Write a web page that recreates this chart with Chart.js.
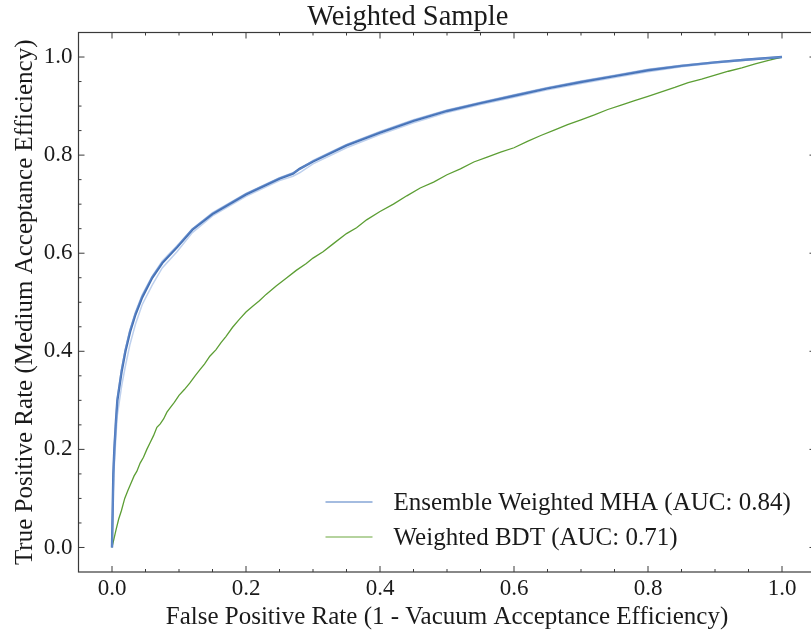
<!DOCTYPE html>
<html>
<head>
<meta charset="utf-8">
<script src="https://cdn.jsdelivr.net/npm/chart.js@4.4.1/dist/chart.umd.min.js"></script>
<style>
  html, body { margin: 0; padding: 0; background: #fff; overflow: hidden; }
  #wrap { width: 830px; height: 632px; }
</style>
</head>
<body>
<div id="wrap"><canvas id="roc" width="830" height="632"></canvas></div>
<script>
// ROC curves
const mhaFpr = [0, 0.002, 0.0035, 0.006, 0.008, 0.0145, 0.02, 0.027, 0.035, 0.045, 0.06, 0.075, 0.097, 0.12, 0.15, 0.2, 0.25, 0.27, 0.28, 0.3, 0.35, 0.4, 0.45, 0.5, 0.55, 0.6, 0.65, 0.7, 0.75, 0.8, 0.85, 0.9, 0.95, 1.0];
const mhaTpr = [0, 0.15, 0.2, 0.26, 0.3, 0.36, 0.4, 0.44, 0.475, 0.51, 0.55, 0.58, 0.612, 0.648, 0.68, 0.72, 0.752, 0.762, 0.772, 0.787, 0.82, 0.846, 0.87, 0.89, 0.906, 0.921, 0.936, 0.949, 0.961, 0.973, 0.982, 0.989, 0.995, 1.0];
// two of the faint ensemble members
const memberA = [0, 0.12, 0.17, 0.23, 0.27, 0.33, 0.37, 0.415, 0.455, 0.495, 0.535, 0.57, 0.603, 0.642, 0.676, 0.716, 0.748, 0.757, 0.764, 0.782, 0.815, 0.842, 0.866, 0.887, 0.903, 0.918, 0.933, 0.946, 0.958, 0.97, 0.98, 0.988, 0.994, 1.0];
const memberB = [0, 0.16, 0.21, 0.265, 0.305, 0.365, 0.405, 0.445, 0.48, 0.515, 0.553, 0.584, 0.615, 0.65, 0.683, 0.722, 0.754, 0.764, 0.771, 0.789, 0.822, 0.848, 0.872, 0.892, 0.908, 0.923, 0.938, 0.951, 0.963, 0.975, 0.983, 0.99, 0.996, 1.0];

const bdtFpr = [0, 0.003, 0.006, 0.01, 0.014, 0.019, 0.024, 0.028, 0.033, 0.037, 0.042, 0.047, 0.052, 0.057, 0.062, 0.067, 0.072, 0.077, 0.082, 0.087, 0.093, 0.1, 0.108, 0.116, 0.124, 0.131, 0.138, 0.146, 0.155, 0.163, 0.17, 0.18, 0.19, 0.2, 0.21, 0.22, 0.23, 0.245, 0.26, 0.275, 0.29, 0.3, 0.315, 0.33, 0.35, 0.365, 0.38, 0.4, 0.42, 0.44, 0.46, 0.48, 0.5, 0.52, 0.54, 0.56, 0.58, 0.6, 0.62, 0.64, 0.66, 0.68, 0.7, 0.72, 0.74, 0.76, 0.78, 0.8, 0.82, 0.84, 0.86, 0.88, 0.9, 0.92, 0.94, 0.96, 0.98, 1.0];
const bdtTpr = [0, 0.018, 0.036, 0.058, 0.075, 0.1, 0.117, 0.13, 0.146, 0.155, 0.172, 0.184, 0.2, 0.214, 0.228, 0.245, 0.252, 0.262, 0.276, 0.285, 0.296, 0.31, 0.322, 0.335, 0.35, 0.362, 0.374, 0.39, 0.403, 0.418, 0.43, 0.449, 0.465, 0.48, 0.492, 0.503, 0.516, 0.533, 0.549, 0.565, 0.579, 0.59, 0.603, 0.619, 0.64, 0.652, 0.668, 0.685, 0.7, 0.717, 0.733, 0.745, 0.76, 0.772, 0.786, 0.796, 0.806, 0.815, 0.828, 0.84, 0.851, 0.862, 0.872, 0.882, 0.893, 0.902, 0.911, 0.92, 0.929, 0.938, 0.948, 0.955, 0.963, 0.971, 0.978, 0.986, 0.993, 1.0];

const xTicks = [0, 0.2, 0.4, 0.6, 0.8, 1.0];
const yTicks = [0, 0.2, 0.4, 0.6, 0.8, 1.0];

const FONT = "'Liberation Serif', 'Times New Roman', serif";

function pts(xs, ys) { return xs.map((x, i) => ({x: x, y: ys[i]})); }

// inward ticks on all four sides + frame, like the matplotlib style
const frameTicks = {
  id: 'frameTicks',
  afterDraw(chart) {
    const {ctx, chartArea: a, scales: {x, y}} = chart;
    ctx.save();
    ctx.strokeStyle = '#3a3a3a';
    ctx.lineWidth = 1.2;
    ctx.strokeRect(a.left, a.top, a.right - a.left, a.bottom - a.top);
    ctx.lineWidth = 1;
    for (let i = -1; i <= 21; i++) {
      const v = i * 0.05;
      const major = i % 4 === 0;
      const len = major ? 6 : 3;
      const px = x.getPixelForValue(v);
      if (px > a.left + 1 && px < a.right - 1) {
        ctx.beginPath();
        ctx.moveTo(px, a.bottom); ctx.lineTo(px, a.bottom - len);
        ctx.moveTo(px, a.top); ctx.lineTo(px, a.top + len);
        ctx.stroke();
      }
      const py = y.getPixelForValue(v);
      if (py > a.top + 1 && py < a.bottom - 1) {
        ctx.beginPath();
        ctx.moveTo(a.left, py); ctx.lineTo(a.left + len, py);
        ctx.moveTo(a.right, py); ctx.lineTo(a.right - len, py);
        ctx.stroke();
      }
    }
    ctx.restore();
  }
};

// legend inside the axes, lower right
const innerLegend = {
  id: 'innerLegend',
  afterDatasetsDraw(chart) {
    const {ctx, chartArea: a} = chart;
    const items = chart.data.datasets.filter(d => d.inLegend);
    ctx.save();
    ctx.font = '25px ' + FONT;
    ctx.textBaseline = 'middle';
    ctx.fillStyle = '#1a1a1a';
    items.forEach((d, i) => {
      const yy = a.bottom - 70 + i * 35;
      const x0 = a.right - 490;
      ctx.strokeStyle = d.legendColor;
      ctx.lineWidth = 1.5;
      ctx.beginPath();
      ctx.moveTo(x0, yy); ctx.lineTo(x0 + 47, yy);
      ctx.stroke();
      ctx.fillText(d.label, x0 + 68, yy + 1);
    });
    ctx.restore();
  }
};

const ctx = document.getElementById('roc').getContext('2d');
const chart = new Chart(ctx, {
  type: 'line',
  data: {
    datasets: [
      {
        label: 'member A', data: pts(mhaFpr, memberA),
        borderColor: 'rgba(110,150,215,0.45)', borderWidth: 1.5
      },
      {
        label: 'member B', data: pts(mhaFpr, memberB),
        borderColor: 'rgba(110,150,215,0.45)', borderWidth: 1.5
      },
      {
        label: 'Ensemble Weighted MHA (AUC: 0.84)', data: pts(mhaFpr, mhaTpr),
        borderColor: '#4571b5', borderWidth: 2.4,
        inLegend: true, legendColor: '#86a6d6'
      },
      {
        label: 'Weighted BDT (AUC: 0.71)', data: pts(bdtFpr, bdtTpr),
        borderColor: '#5c9e34', borderWidth: 1.3,
        inLegend: true, legendColor: '#9cc47e'
      }
    ]
  },
  options: {
    responsive: false,
    animation: false,
    elements: { point: { radius: 0 }, line: { tension: 0, fill: false } },
    layout: { padding: { left: 0, right: 14.5, top: 0, bottom: 0 } },
    plugins: {
      legend: { display: false },
      tooltip: { enabled: false },
      title: {
        display: true,
        text: 'Weighted Sample',
        color: '#1a1a1a',
        font: { family: FONT, size: 28.5, weight: 'normal', lineHeight: 1.0 },
        padding: { top: 3, bottom: 1 }
      }
    },
    scales: {
      x: {
        type: 'linear', min: -0.05, max: 1.05,
        afterBuildTicks: s => { s.ticks = xTicks.map(v => ({value: v})); },
        afterFit: s => { s.height = 60; },
        grid: { display: false, drawTicks: false },
        border: { display: false },
        ticks: {
          color: '#1a1a1a', padding: 3,
          font: { family: FONT, size: 23 },
          callback: v => v.toFixed(1)
        },
        title: {
          display: true,
          text: 'False Positive Rate (1 - Vacuum Acceptance Efficiency)',
          color: '#1a1a1a',
          font: { family: FONT, size: 25, lineHeight: 1.2 },
          padding: { top: 0, bottom: 0 }
        }
      },
      y: {
        type: 'linear', min: -0.05, max: 1.05,
        afterBuildTicks: s => { s.ticks = yTicks.map(v => ({value: v})); },
        afterFit: s => { s.width = 78.5; },
        grid: { display: false, drawTicks: false },
        border: { display: false },
        ticks: {
          color: '#1a1a1a', padding: 6,
          font: { family: FONT, size: 23 },
          callback: v => v.toFixed(1)
        },
        title: {
          display: true,
          text: 'True Positive Rate (Medium Acceptance Efficiency)',
          color: '#1a1a1a',
          font: { family: FONT, size: 25, lineHeight: 1.2 },
          padding: { top: 10, bottom: 0 }
        }
      }
    }
  },
  plugins: [frameTicks, innerLegend]
});
</script>
</body>
</html>
